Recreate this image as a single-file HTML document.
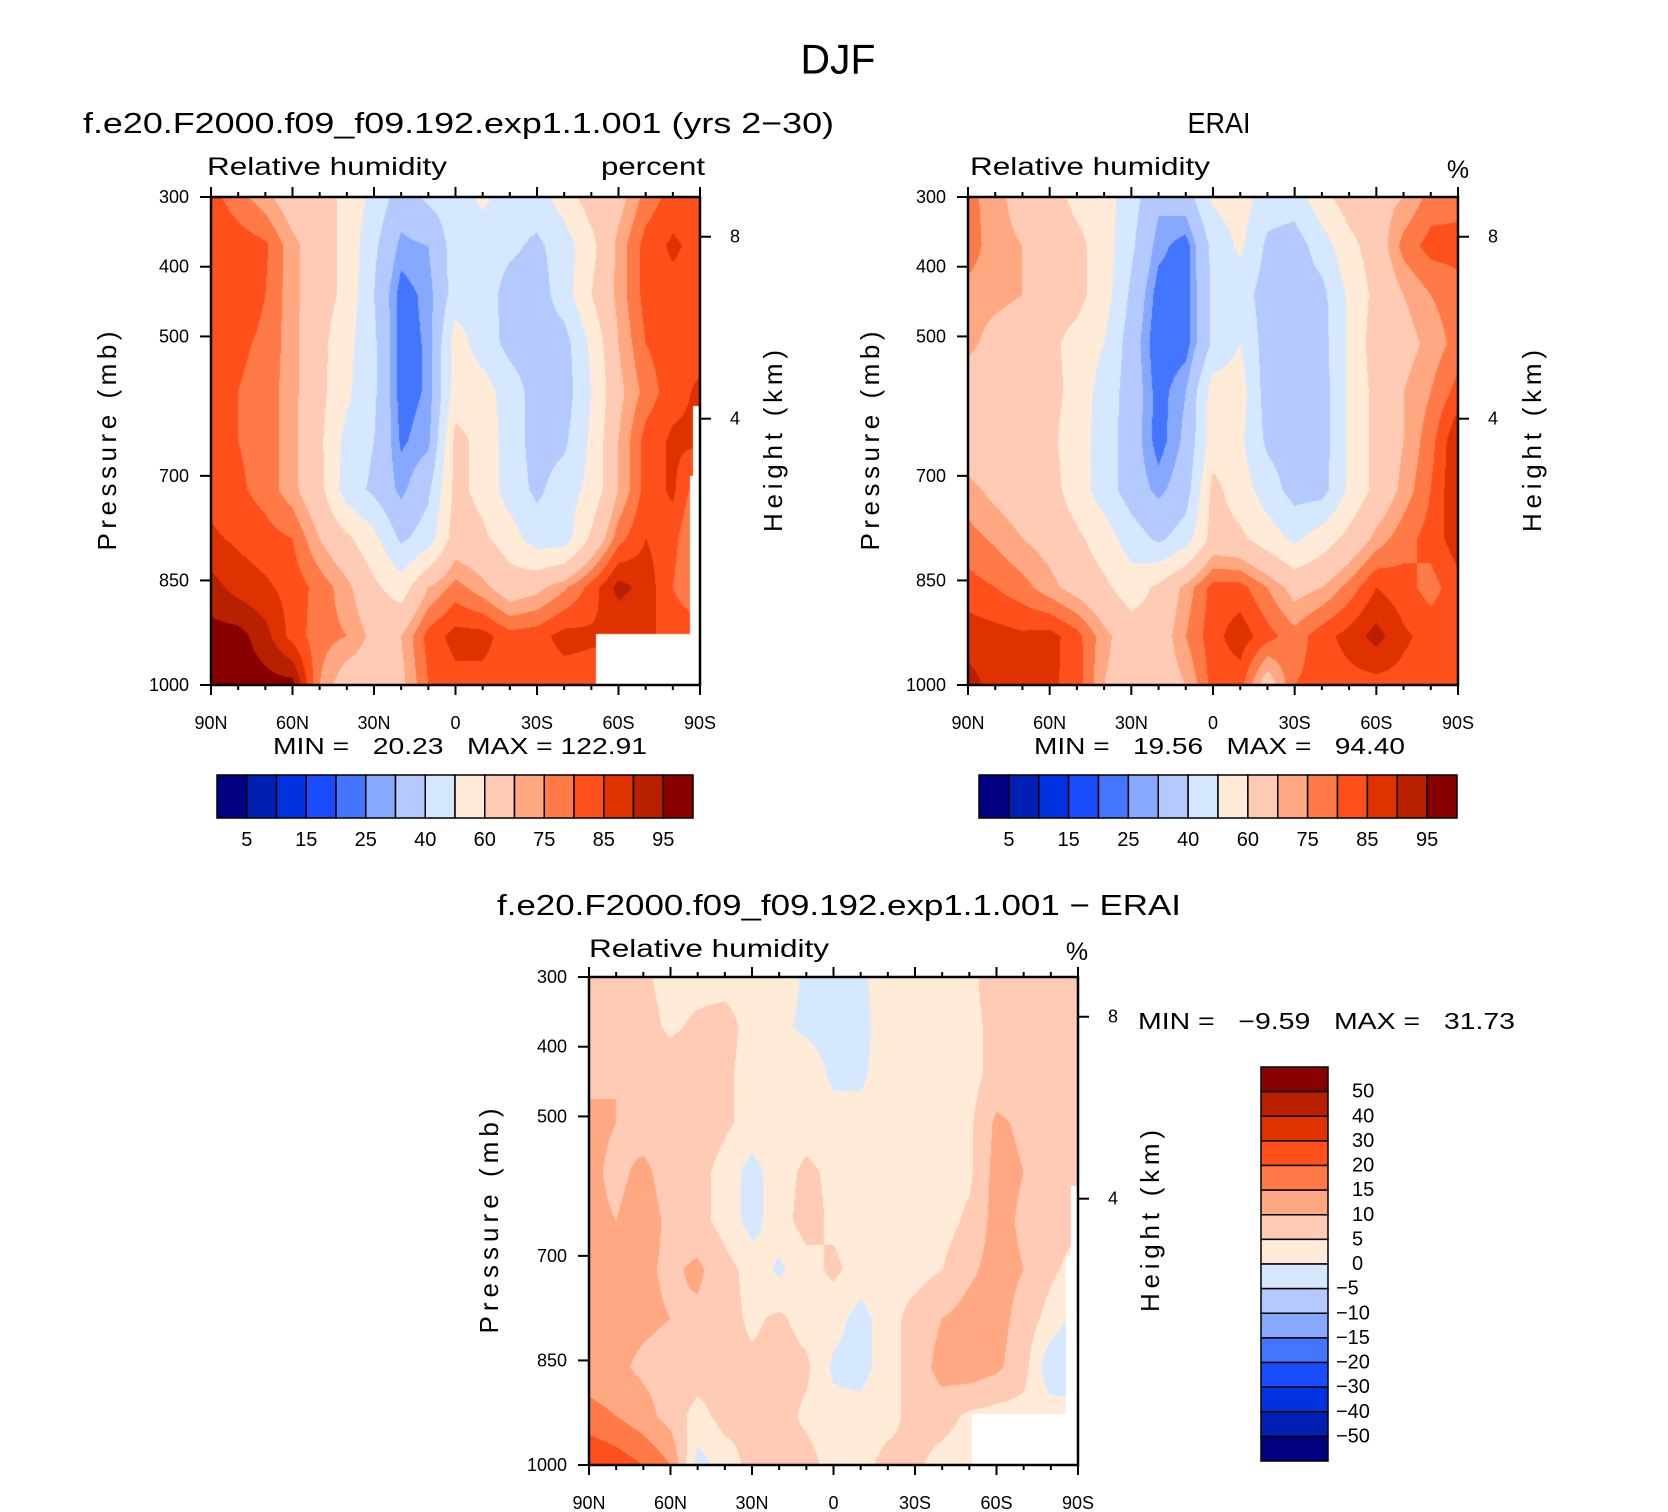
<!DOCTYPE html>
<html><head><meta charset="utf-8">
<style>
html,body{margin:0;padding:0;background:#fff;}
#wrap{position:relative;width:1668px;height:1512px;overflow:hidden;background:#fff;}
canvas{position:absolute;}
svg{position:absolute;left:0;top:0;}
text{font-family:"Liberation Sans",sans-serif;fill:#000;}
</style></head>
<body>
<div id="wrap">
<svg id="svg" width="1668" height="1512"></svg>
</div>
<script>
// ---------- data ----------
const lats=[90,80,70,60,50,40,30,20,10,0,-10,-20,-30,-40,-50,-60,-70,-80,-90];
const levels=[300,370,440,510,580,650,720,790,860,930,1000];
const modelRH=[
[82,77,72,65,65,57,47,35,42,45,52,45,45,55,65,67,77,82,82],
[85,83,81,72,65,57,42,28,30,45,45,42,38,45,57,72,82,86,83],
[84,83,80,72,65,57,40,22,27,45,45,36,35,45,60,72,82,83,83],
[82,81,79,72,63,53,42,22,26,55,45,37,35,36,52,70,80,83,83],
[82,80,78,72,63,52,42,22,26,55,55,45,36,35,50,68,77,83,86],
[82,80,78,72,62,47,40,24,28,63,57,45,36,38,52,70,82,86,86],
[83,81,78,72,63,45,38,28,38,63,57,45,38,45,53,70,82,86,76],
[86,84,82,80,70,62,53,38,45,65,62,55,45,45,62,78,85,82,72],
[92,88,86,83,78,72,62,55,70,77,72,65,68,74,82,92,88,80,72],
[97,97,92,83,77,75,68,70,82,87,87,82,83,87,86,85,85,85,85],
[98,98,97,97,75,65,65,68,80,83,83,82,82,82,82,82,82,82,82]];
const eraiRH=[
[77,72,67,65,57,55,44,32,35,52,55,45,45,57,65,67,70,77,78],
[78,72,70,65,63,55,42,27,22,43,52,38,35,45,57,65,77,82,82],
[73,72,70,64,63,55,38,22,22,42,45,35,35,37,52,63,70,75,78],
[72,67,65,62,57,50,35,20,22,42,50,35,33,36,52,65,67,72,77],
[65,63,63,63,57,45,36,22,30,55,55,35,33,35,52,63,70,75,82],
[65,63,63,62,55,45,35,22,32,55,52,38,35,35,52,63,70,78,90],
[72,68,65,64,55,45,35,28,35,63,55,45,36,36,52,63,72,80,90],
[77,74,70,67,62,55,45,38,45,64,62,55,48,55,63,72,78,82,88],
[82,80,77,72,67,62,55,62,72,82,82,75,67,70,77,85,82,78,83],
[88,87,86,87,82,72,65,65,75,83,88,82,77,83,87,92,86,83,84],
[92,88,87,86,83,70,65,65,70,82,82,65,80,82,83,83,83,83,85]];
const diffRH=[
[7,7,6,3,3,3,3,3,-1,-2,-1,3,2,0,4,7,7,7,7],
[7,7,7,4,6,7,3,1,-1,-2,-2,3,3,3,4,6,6,7,6],
[9,10,8,8,8,6,3,3,3,-1,-1,3,3,3,3,7,7,7,7],
[11,10,8,8,8,6,3,3,3,2,2,3,3,3,4,11,9,7,7],
[11,9,11,8,7,3,-2,3,6,4,3,3,3,3,4,12,10,10,8],
[11,10,12,9,7,3,-2,3,7,4,3,3,3,3,6,12,9,7,6],
[12,12,11,9,11,7,3,-1,3,6,3,3,3,5,9,12,10,6,3],
[12,12,11,10,9,7,4,6,3,2,-2,3,7,10,12,12,8,3,-2],
[12,11,9,8,8,7,6,7,6,-1,-2,3,7,12,13,11,7,-4,-5],
[17,15,12,8,3,7,6,7,4,2,2,3,7,7,4,3,3,3,3],
[25,23,20,15,-2,2,7,7,7,3,3,7,6,3,2,3,3,3,3]];
const rhBounds=[5,10,15,20,25,30,40,50,60,70,75,80,85,90,95];
const rhLabels=["5","15","25","40","60","75","85","95"];
const diffBounds=[-50,-40,-30,-20,-15,-10,-5,0,5,10,15,20,30,40,50];
const diffLabels=["50","40","30","20","15","10","5","0","\u22125","\u221210","\u221215","\u221220","\u221230","\u221240","\u221250"];
const palette=['#000080','#0020b4','#0032e0','#1a4cff','#4475ff','#87a8ff','#b4caff','#d6e8ff','#ffebd8','#ffcbb4','#ffa882','#ff7a46','#ff4f1a','#e03200','#b92000','#880000'];
const modelMissing=[[-51.6,-90,927,1000],[-87.5,-90,600,700],[-86.5,-90,700,927]];
const diffMissing=[[-51,-90,927,1000],[-87.5,-90,600,700],[-85.5,-90,700,927]];
const pTicks=[300,400,500,700,850,1000];
const latTicks=[90,60,30,0,-30,-60,-90];
const latTickLabels=["90N","60N","30N","0","30S","60S","90S"];
const heightTicks=[[8,357],[4,618]];

// ---------- helpers ----------
const NS="http://www.w3.org/2000/svg";
const svg=document.getElementById('svg');
const wrap=document.getElementById('wrap');
function el(tag,attrs,parent){const e=document.createElementNS(NS,tag);for(const k in attrs)e.setAttribute(k,attrs[k]);(parent||svg).appendChild(e);return e;}
function txt(s,x,y,size,anchor,extra){const t=el('text',Object.assign({x:x,y:y,'font-size':size,'text-anchor':anchor||'middle','dominant-baseline':'central'},extra||{}));t.textContent=s;return t;}
function hex(c){return [parseInt(c.substr(1,2),16),parseInt(c.substr(3,2),16),parseInt(c.substr(5,2),16)];}
const palRGB=palette.map(hex);
function classify(v,b){let i=0;while(i<b.length&&v>=b[i])i++;return i;}

function drawField(name,x0,y0,w,h,grid,bounds,missing){
  const cv=document.createElement('canvas');
  cv.width=w;cv.height=h;cv.style.left=x0+'px';cv.style.top=y0+'px';
  
  
  wrap.insertBefore(cv,svg);
  const ctx=cv.getContext('2d');const img=ctx.createImageData(w,h);const d=img.data;
  const nL=lats.length,nP=levels.length;
  for(let py=0;py<h;py++){
    const p=300+(py+0.5)/h*700;
    let k=0;while(k<nP-2&&p>levels[k+1])k++;
    const ty=Math.min(1,Math.max(0,(p-levels[k])/(levels[k+1]-levels[k])));
    for(let px=0;px<w;px++){
      const lat=90-(px+0.5)/w*180;
      let j=0;while(j<nL-2&&lat<lats[j+1])j++;
      const tx=Math.min(1,Math.max(0,(lats[j]-lat)/(lats[j]-lats[j+1])));
      const v=(1-ty)*((1-tx)*grid[k][j]+tx*grid[k][j+1])+ty*((1-tx)*grid[k+1][j]+tx*grid[k+1][j+1]);
      let miss=false;
      for(const m of missing){if(lat<=m[0]&&lat>=m[1]&&p>=m[2]&&p<=m[3]){miss=true;break;}}
      const o=(py*w+px)*4;
      if(miss){d[o]=255;d[o+1]=255;d[o+2]=255;d[o+3]=255;continue;}
      const c=palRGB[classify(v,bounds)];
      d[o]=c[0];d[o+1]=c[1];d[o+2]=c[2];d[o+3]=255;
    }
  }
  ctx.putImageData(img,0,0);
}

function drawAxes(prefix,x0,y0,w,h,pLabelX,pTitleX,hTitleX,hLen,pLen){
  const g=el('g',{});
  
  
  const yP=p=>y0+(p-300)/700*h;
  const xL=l=>x0+(90-l)/180*w;
  for(let l=90;l>=-90;l-=10){
    const major=(l%30===0);const L=major?10:5;const x=xL(l);
    el('line',{x1:x,y1:y0,x2:x,y2:y0-L,stroke:'#000','stroke-width':2},g);
    el('line',{x1:x,y1:y0+h,x2:x,y2:y0+h+L,stroke:'#000','stroke-width':2},g);
  }
  latTicks.forEach((l,i)=>{
    const t=txt(latTickLabels[i],xL(l),y0+h+38,18,'middle');
    
    
  });
  pTicks.forEach(p=>{
    el('line',{x1:x0,y1:yP(p),x2:x0-11,y2:yP(p),stroke:'#000','stroke-width':2},g);
    const t=txt(String(p),x0-22,yP(p),18,'end');
    
    
  });
  heightTicks.forEach(ht=>{
    el('line',{x1:x0+w,y1:yP(ht[1]),x2:x0+w+11,y2:yP(ht[1]),stroke:'#000','stroke-width':2},g);
    const t=txt(String(ht[0]),x0+w+30,yP(ht[1]),18,'start');
    
    
  });
  const fr=el('rect',{x:x0,y:y0,width:w,height:h,fill:'none',stroke:'#000','stroke-width':2.5},g);
  
  
  const cy=y0+h/2;
  const pt=txt('Pressure (mb)',pTitleX,cy,26,'middle',{transform:'rotate(-90 '+pTitleX+' '+cy+')',textLength:pLen,lengthAdjust:'spacing'});
  
  
  const ht=txt('Height (km)',hTitleX,cy,26,'middle',{transform:'rotate(-90 '+hTitleX+' '+cy+')',textLength:hLen,lengthAdjust:'spacing'});
  
  
}

function hColorbar(prefix,x0,y0,w,h){
  const bw=w/palette.length;
  palette.forEach((c,i)=>{
    const r=el('rect',{x:x0+i*bw,y:y0,width:bw,height:h,fill:c,stroke:'#000','stroke-width':1.5});
    
    
  });
  rhLabels.forEach((s,i)=>{
    const t=txt(s,x0+(2*i+1)*bw,y0+h+22,20,'middle');
    
    
  });
}

// ---------- titles ----------
let t;
t=txt('DJF',838,59,42,'middle',{textLength:75,lengthAdjust:'spacingAndGlyphs'});

t=txt('f.e20.F2000.f09_f09.192.exp1.1.001 (yrs 2\u221230)',83,124,29,'start',{textLength:751,lengthAdjust:'spacingAndGlyphs'});

t=txt('ERAI',1219,124,29,'middle',{textLength:63,lengthAdjust:'spacingAndGlyphs'});

t=txt('f.e20.F2000.f09_f09.192.exp1.1.001 \u2212 ERAI',497,906,29,'start',{textLength:684,lengthAdjust:'spacingAndGlyphs'});


t=txt('Relative humidity',207,167,25,'start',{textLength:240,lengthAdjust:'spacingAndGlyphs'});

t=txt('percent',705,167,25,'end',{textLength:104,lengthAdjust:'spacingAndGlyphs'});

t=txt('Relative humidity',970,167,25,'start',{textLength:240,lengthAdjust:'spacingAndGlyphs'});

t=txt('%',1458,170,25,'middle');

t=txt('Relative humidity',589,949,25,'start',{textLength:240,lengthAdjust:'spacingAndGlyphs'});

t=txt('%',1077,952,25,'middle');


t=txt('MIN =   20.23   MAX = 122.91',273,746,23,'start',{textLength:374,lengthAdjust:'spacingAndGlyphs',style:'white-space:pre'});

t=txt('MIN =   19.56   MAX =   94.40',1034,746,23,'start',{textLength:371,lengthAdjust:'spacingAndGlyphs',style:'white-space:pre'});

t=txt('MIN =   \u22129.59   MAX =   31.73',1138,1021,23,'start',{textLength:377,lengthAdjust:'spacingAndGlyphs',style:'white-space:pre'});


// ---------- panels ----------
drawField('model-contour-field',211,197,489,488,modelRH,rhBounds,modelMissing);
drawAxes('model',211,197,489,488,0,107,773,182,219);
hColorbar('model',217,775,476,43);

drawField('erai-contour-field',968,197,490,488,eraiRH,rhBounds,[]);
drawAxes('erai',968,197,490,488,0,870,1532,182,219);
hColorbar('erai',979,775,478,43);

drawField('diff-contour-field',589,977,489,488,diffRH,diffBounds,diffMissing);
drawAxes('diff',589,977,489,488,0,489,1150,182,225);

(function(){
  const x0=1261,y0=1067,w=67,h=394;const bh=h/palette.length;
  for(let i=0;i<palette.length;i++){
    const r=el('rect',{x:x0,y:y0+i*bh,width:w,height:bh,fill:palette[palette.length-1-i],stroke:'#000','stroke-width':1.5});
    
    
  }
  diffLabels.forEach((s,i)=>{
    const tt=txt(s,x0+w+(s.charAt(0)==='\u2212'?8:24),y0+(i+1)*bh,20,'start');
    
    
  });
})();
</script>
</body></html>
